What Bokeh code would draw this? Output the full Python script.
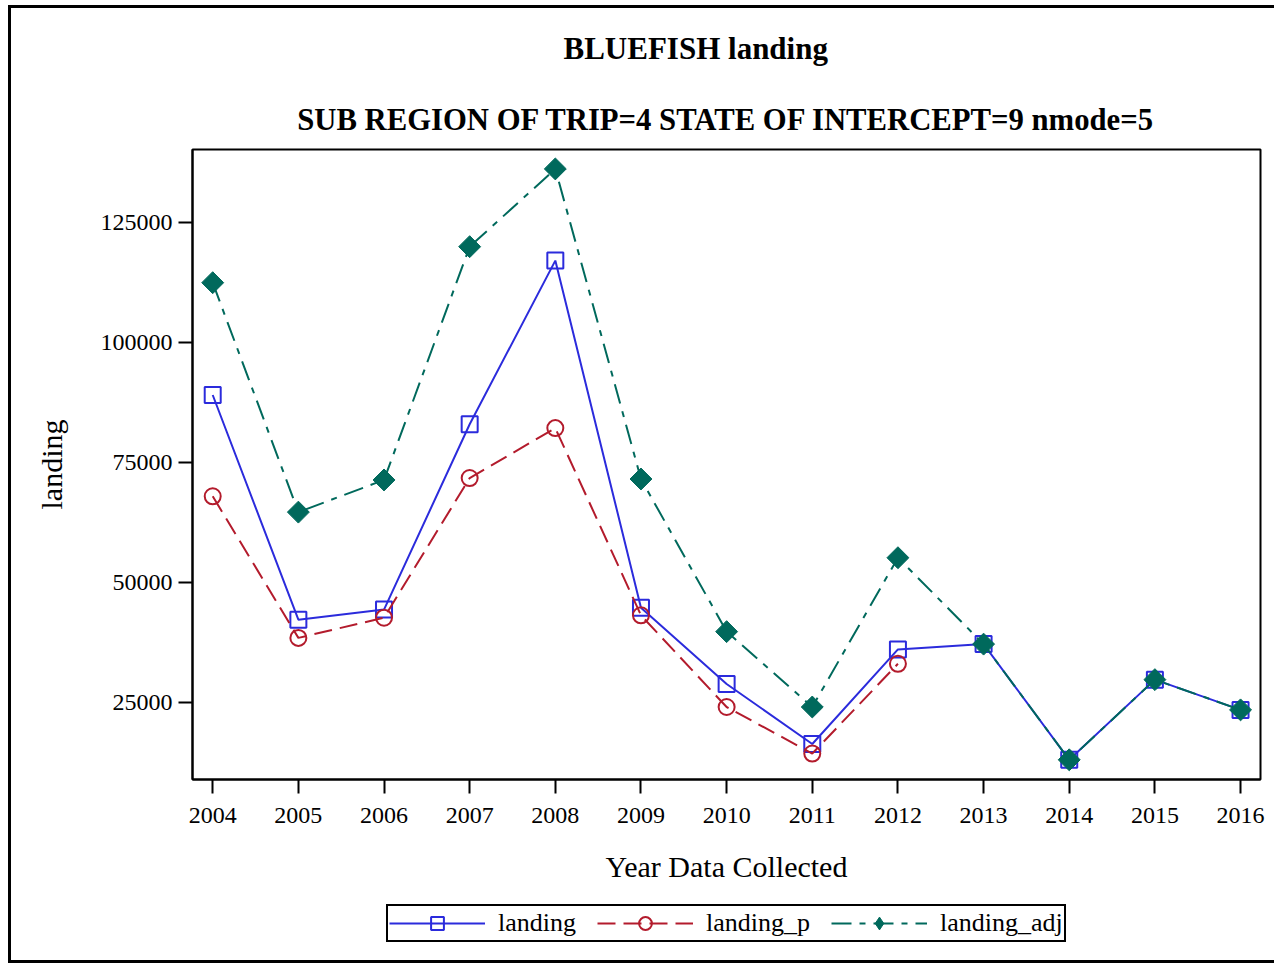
import math
from bokeh.plotting import figure
from bokeh.layouts import column
from bokeh.models import Range1d, FixedTicker, NumeralTickFormatter, Title, Legend, LegendItem
from bokeh.embed import file_html
from bokeh.resources import INLINE

# ---- data ----
years = [2004, 2005, 2006, 2007, 2008, 2009, 2010, 2011, 2012, 2013, 2014, 2015, 2016]
landing = [89000, 42200, 44300, 82900, 117000, 44700, 28800, 16300, 36000, 37100, 13000, 29700, 23400]
landing_p = [67900, 38400, 42600, 71700, 82100, 43100, 24000, 14300, 33000,
             float("nan"), float("nan"), float("nan"), float("nan")]
landing_adj = [112400, 64600, 71300, 119900, 136100, 71500, 39700, 24000, 55100, 37100, 13000, 29700, 23400]
y_ticks = [25000, 50000, 75000, 100000, 125000]
series_names = ["landing", "landing_p", "landing_adj"]
title_text = "BLUEFISH landing"
subtitle_text = "SUB REGION OF TRIP=4 STATE OF INTERCEPT=9 nmode=5"
x_label = "Year Data Collected"
y_label = "landing"

FONT = "Liberation Serif"
BLUE = "#2B2BDC"
RED = "#B31B2C"
GREEN = "#00695C"

# ---------------- main chart ----------------
p = figure(width=1263, height=882,
           x_range=Range1d(2003.764, 2016.233), y_range=Range1d(8896, 140146),
           output_backend="svg", toolbar_location=None,
           min_border_left=181, min_border_right=14, min_border_top=141, min_border_bottom=111)

p.xgrid.visible = False
p.ygrid.visible = False
p.outline_line_color = "black"
p.outline_line_width = 2

for ax in (p.xaxis[0], p.yaxis[0]):
    ax.axis_line_width = 2
    ax.major_tick_line_width = 2
    ax.major_tick_out = 14
    ax.major_tick_in = 0
    ax.minor_tick_line_color = None
    ax.major_label_text_font = FONT
    ax.major_label_text_font_size = "24px"
    ax.major_label_text_color = "black"
    ax.axis_label_text_font = FONT
    ax.axis_label_text_font_size = "30px"
    ax.axis_label_text_font_style = "normal"
    ax.axis_label_text_color = "black"

p.xaxis.ticker = FixedTicker(ticks=years)
p.yaxis.ticker = FixedTicker(ticks=y_ticks)
p.yaxis.formatter = NumeralTickFormatter(format="0")
p.xaxis.major_label_standoff = 14
p.yaxis.major_label_standoff = 6
p.xaxis.axis_label = x_label
p.yaxis.axis_label = y_label
p.xaxis.axis_label_standoff = 24
p.yaxis.axis_label_standoff = 30

p.line(years, landing, line_color=BLUE, line_width=2)
p.scatter(years, landing, marker="square", size=16, fill_color=None,
          line_color=BLUE, line_width=2)
p.line(years, landing_p, line_color=RED, line_width=2, line_dash="18 8")
p.scatter(years, landing_p, marker="circle", size=16, fill_color=None,
          line_color=RED, line_width=2)
p.line(years, landing_adj, line_color=GREEN, line_width=2, line_dash="20 8 6 8")
p.scatter(years, landing_adj, marker="square", angle=math.pi / 4, size=15.5,
          fill_color=GREEN, line_color=GREEN, line_width=1)

# subtitle first (closest to the frame), then main title above it
p.add_layout(Title(text=subtitle_text, align="center", text_font=FONT, text_color="black",
                   text_font_size="30.7px", text_font_style="bold", standoff=25), "above")
p.add_layout(Title(text=title_text, align="left", offset=371, text_font=FONT, text_color="black",
                   text_font_size="31px", text_font_style="bold", standoff=41,
                   vertical_align="top"), "above")

# ---------------- legend strip ----------------
lg = figure(width=1263, height=70, output_backend="svg", toolbar_location=None,
            min_border_left=0, min_border_right=0, min_border_top=0, min_border_bottom=0)
lg.axis.visible = False
lg.xgrid.visible = False
lg.ygrid.visible = False
lg.outline_line_color = None

l1 = lg.line(years, landing, line_color=BLUE, line_width=2, visible=False)
m1 = lg.scatter(years, landing, marker="square", fill_color=None,
                line_color=BLUE, line_width=2, visible=False)
l2 = lg.line(years, landing_p, line_color=RED, line_width=2, line_dash="18 8", visible=False)
m2 = lg.scatter(years, landing_p, marker="circle", fill_color=None,
                line_color=RED, line_width=2, visible=False)
l3 = lg.line(years, landing_adj, line_color=GREEN, line_width=2, line_dash="20 8 6 8",
             visible=False)
m3 = lg.scatter(years, landing_adj, marker="diamond", fill_color=GREEN,
                line_color=GREEN, visible=False)

legend = Legend(items=[LegendItem(label=series_names[0], renderers=[l1, m1]),
                       LegendItem(label=series_names[1], renderers=[l2, m2]),
                       LegendItem(label=series_names[2], renderers=[l3, m3])],
                orientation="horizontal", location=(194, 18),
                glyph_width=96, glyph_height=32, label_standoff=13, spacing=21,
                padding=1, margin=0, border_line_color="black", border_line_width=2,
                border_line_alpha=1.0,
                label_text_font=FONT, label_text_font_size="26px",
                label_text_color="black",
                background_fill_alpha=1.0)
lg.add_layout(legend)

page = column(p, lg, spacing=0)
page.styles = {"margin-left": "8px", "margin-top": "5px",
               "border-left": "3px solid black", "border-top": "3px solid black",
               "border-bottom": "3px solid black"}

open("out.html", "w").write(file_html(page, INLINE))
